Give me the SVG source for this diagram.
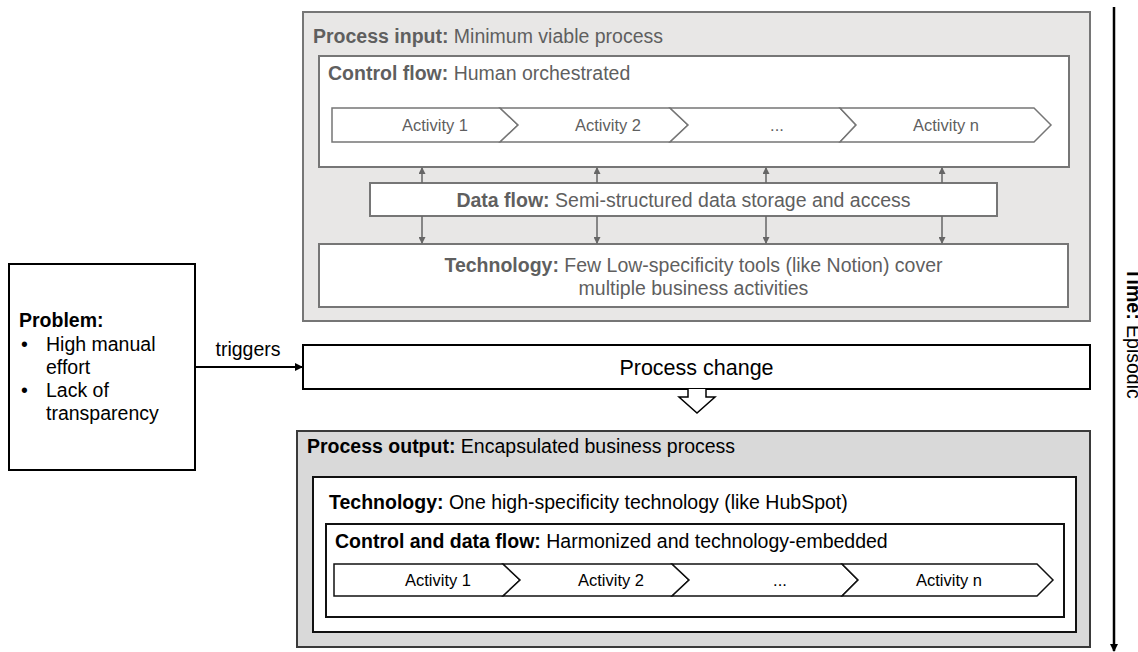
<svg xmlns="http://www.w3.org/2000/svg" width="1138" height="652" viewBox="0 0 1138 652">
<style>
text{font-family:"Liberation Sans",Arial,Helvetica,sans-serif;}
.lbl{font-size:19.5px;}
.act{font-size:16.5px;}
.g{fill:#5f5f5f;}
.k{fill:#000;}
.b{font-weight:bold;}
.inbox{fill:#e8e7e6;stroke:#767676;stroke-width:2;}
.inwhite{fill:#fff;stroke:#767676;stroke-width:2;}
.inchev{fill:#fff;stroke:#767676;stroke-width:1.5;stroke-linejoin:miter;}
.outbox{fill:#d9d9d9;stroke:#3a3a3a;stroke-width:2;}
.outwhite{fill:#fff;stroke:#111;stroke-width:2;}
.outchev{fill:#fff;stroke:#111;stroke-width:1.5;}
.garrow{stroke:#666;stroke-width:1.5;fill:none;marker-end:url(#ga);}
</style>
<defs>
<marker id="ga" markerUnits="userSpaceOnUse" markerWidth="7" markerHeight="7" refX="6" refY="3.5" orient="auto"><path d="M0,0 L7,3.5 L0,7 z" fill="#666"/></marker>
<marker id="ka" markerUnits="userSpaceOnUse" markerWidth="8" markerHeight="8" refX="7" refY="4" orient="auto"><path d="M0,0 L8,4 L0,8 z" fill="#000"/></marker>
</defs>

<g id="process-input">
<rect class="inbox" x="303" y="12" width="787" height="309"/>
<text class="lbl g" x="313" y="43"><tspan class="b">Process input:</tspan> Minimum viable process</text>
</g>

<g id="control-flow">
<rect class="inwhite" x="319" y="56" width="750" height="111"/>
<text class="lbl g" x="328" y="80"><tspan class="b">Control flow:</tspan> Human orchestrated</text>
</g>

<g id="input-activity-1">
<path class="inchev" d="M332,108 H500 L518,125 L500,142 H332 Z"/>
<text class="act g" x="435" y="131" text-anchor="middle">Activity 1</text>
</g>
<g id="input-activity-2">
<path class="inchev" d="M500,108 H670 L688,125 L670,142 H500 L518,125 Z"/>
<text class="act g" x="608" y="131" text-anchor="middle">Activity 2</text>
</g>
<g id="input-activity-dots">
<path class="inchev" d="M670,108 H840 L856,125 L840,142 H670 L688,125 Z"/>
<text class="act g" x="777" y="131" text-anchor="middle">...</text>
</g>
<g id="input-activity-n">
<path class="inchev" d="M840,108 H1034 L1051,125 L1034,142 H840 L856,125 Z"/>
<text class="act g" x="946" y="131" text-anchor="middle">Activity n</text>
</g>

<g id="data-flow">
<rect class="inwhite" x="370" y="183" width="627" height="33"/>
<text class="lbl g" x="683.5" y="207" text-anchor="middle"><tspan class="b">Data flow:</tspan> Semi-structured data storage and access</text>
</g>

<g id="input-technology">
<rect class="inwhite" x="319" y="244" width="749" height="63"/>
<text class="lbl g" x="693.5" y="272" text-anchor="middle"><tspan class="b">Technology:</tspan> Few Low-specificity tools (like Notion) cover</text>
<text class="lbl g" x="693.5" y="295" text-anchor="middle">multiple business activities</text>
</g>

<g id="problem">
<rect x="9" y="264" width="186" height="206" fill="#fff" stroke="#000" stroke-width="2"/>
<text class="lbl k b" x="19" y="327">Problem:</text>
<text class="lbl k" x="21" y="350.5">•</text>
<text class="lbl k" x="46" y="350.5">High manual</text>
<text class="lbl k" x="46" y="373.5">effort</text>
<text class="lbl k" x="21" y="397">•</text>
<text class="lbl k" x="46" y="397">Lack of</text>
<text class="lbl k" x="46" y="420">transparency</text>
</g>

<g id="process-change">
<rect x="303" y="345" width="787" height="44" fill="#fff" stroke="#000" stroke-width="2"/>
<text class="k" x="696.5" y="375" text-anchor="middle" font-size="21.5">Process change</text>
<path d="M688,389 V397 H679 L697,413 L715,397 H706 V389" fill="#fff" stroke="#000" stroke-width="1.5" stroke-linejoin="miter"/>
</g>

<g id="process-output">
<rect class="outbox" x="297" y="431" width="793" height="216"/>
<text class="lbl k" x="307" y="453"><tspan class="b">Process output:</tspan> Encapsulated business process</text>
</g>

<g id="output-technology">
<rect class="outwhite" x="313" y="477" width="763" height="155"/>
<text class="lbl k" x="329" y="509"><tspan class="b">Technology:</tspan> One high-specificity technology (like HubSpot)</text>
</g>

<g id="control-data-flow">
<rect class="outwhite" x="326" y="524" width="738" height="93"/>
<text class="lbl k" x="335" y="548"><tspan class="b">Control and data flow:</tspan> Harmonized and technology-embedded</text>
</g>

<g id="output-activity-1">
<path class="outchev" d="M334,564 H503 L520,580 L503,596 H334 Z"/>
<text class="act k" x="438" y="586" text-anchor="middle">Activity 1</text>
</g>
<g id="output-activity-2">
<path class="outchev" d="M503,564 H672 L689,580 L672,596 H503 L520,580 Z"/>
<text class="act k" x="611" y="586" text-anchor="middle">Activity 2</text>
</g>
<g id="output-activity-dots">
<path class="outchev" d="M672,564 H842 L858,580 L842,596 H672 L689,580 Z"/>
<text class="act k" x="780" y="586" text-anchor="middle">...</text>
</g>
<g id="output-activity-n">
<path class="outchev" d="M842,564 H1037 L1053,580 L1037,596 H842 L858,580 Z"/>
<text class="act k" x="949" y="586" text-anchor="middle">Activity n</text>
</g>

<g id="time-axis">
<line x1="1114" y1="7" x2="1114" y2="651" stroke="#000" stroke-width="2.5" marker-end="url(#ka)"/>
<text class="lbl k" transform="translate(1127,268) rotate(90)"><tspan class="b">Time:</tspan> Episodic</text>
</g>

<g id="connectors">
<line class="garrow" x1="422" y1="183" x2="422" y2="168"/>
<line class="garrow" x1="597" y1="183" x2="597" y2="168"/>
<line class="garrow" x1="766" y1="183" x2="766" y2="168"/>
<line class="garrow" x1="942" y1="183" x2="942" y2="168"/>
<line class="garrow" x1="422" y1="216" x2="422" y2="243"/>
<line class="garrow" x1="597" y1="216" x2="597" y2="243"/>
<line class="garrow" x1="766" y1="216" x2="766" y2="243"/>
<line class="garrow" x1="942" y1="216" x2="942" y2="243"/>
<line x1="195" y1="367" x2="302" y2="367" stroke="#000" stroke-width="2" marker-end="url(#ka)"/>
<text class="lbl k" x="248" y="356" text-anchor="middle">triggers</text>
</g>
</svg>
